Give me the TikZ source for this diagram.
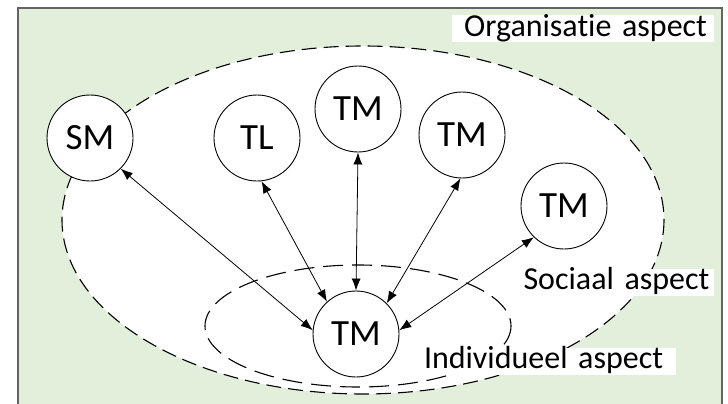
\documentclass[tikz,border=0pt]{standalone}
\usepackage{fontspec}
\setmainfont{Carlito}[Ligatures=NoCommon]
\usetikzlibrary{arrows.meta}
\definecolor{achtergrond}{RGB}{226,239,218}
\definecolor{rand}{RGB}{100,100,100}

\begin{document}
\begin{tikzpicture}[x=1pt, y=-1pt,
  lid/.style={circle, draw, fill=white, line width=0.9pt, minimum size=86pt, inner sep=0pt, font=\fontsize{37}{40}\selectfont},
  aspect/.style={fill=white, inner ysep=0pt, text height=21pt, text depth=6pt, font=\fontsize{32}{34}\selectfont},
  relatie/.style={<->, line width=0.8pt, >={Latex[length=12pt,width=9pt]}}]
\useasboundingbox (0,0) rectangle (728,404);
\clip (0,0) rectangle (728,404);
% kader
\draw [fill=achtergrond, draw=rand, line width=1.8pt] (18,8) rectangle (722,430);
% ellipsen
\draw [fill=white, line width=1.1pt, dash pattern=on 15pt off 7pt] (363,220) ellipse [x radius=301, y radius=174];
\draw [line width=1.1pt, dash pattern=on 20pt off 9pt] (358,326) ellipse [x radius=153, y radius=61];
% teamleden
\node [lid] (sm) at (90,138) {SM};
\node [lid] (tl) at (257,138) {TL};
\node [lid] (tma) at (358,109) {TM};
\node [lid] (tmb) at (462,135) {TM};
\node [lid] (tmc) at (564,206) {TM};
\node [lid] (tm) at (356,334) {TM};
% pijlen
\draw [relatie] (sm.315) -- (tm.175);
\draw [relatie] (tl.276) -- (tm.132);
\draw [relatie] (tma.south) -- (tm.north);
\draw [relatie] (tmb.268) -- (tm.45);
\draw [relatie] (tmc.226) -- (tm.5);
%Text
\node [aspect, inner xsep=7pt, text width=248pt, align=right] (org) at (583,29) {Organisatie aspect};
\node [aspect, inner xsep=3pt, text width=187pt, align=left] (soc) at (617,282) {Sociaal aspect};
\node [aspect, inner xsep=2pt, text width=250pt, align=left] (ind) at (549,361) {Individueel aspect};
\end{tikzpicture}
\end{document}
